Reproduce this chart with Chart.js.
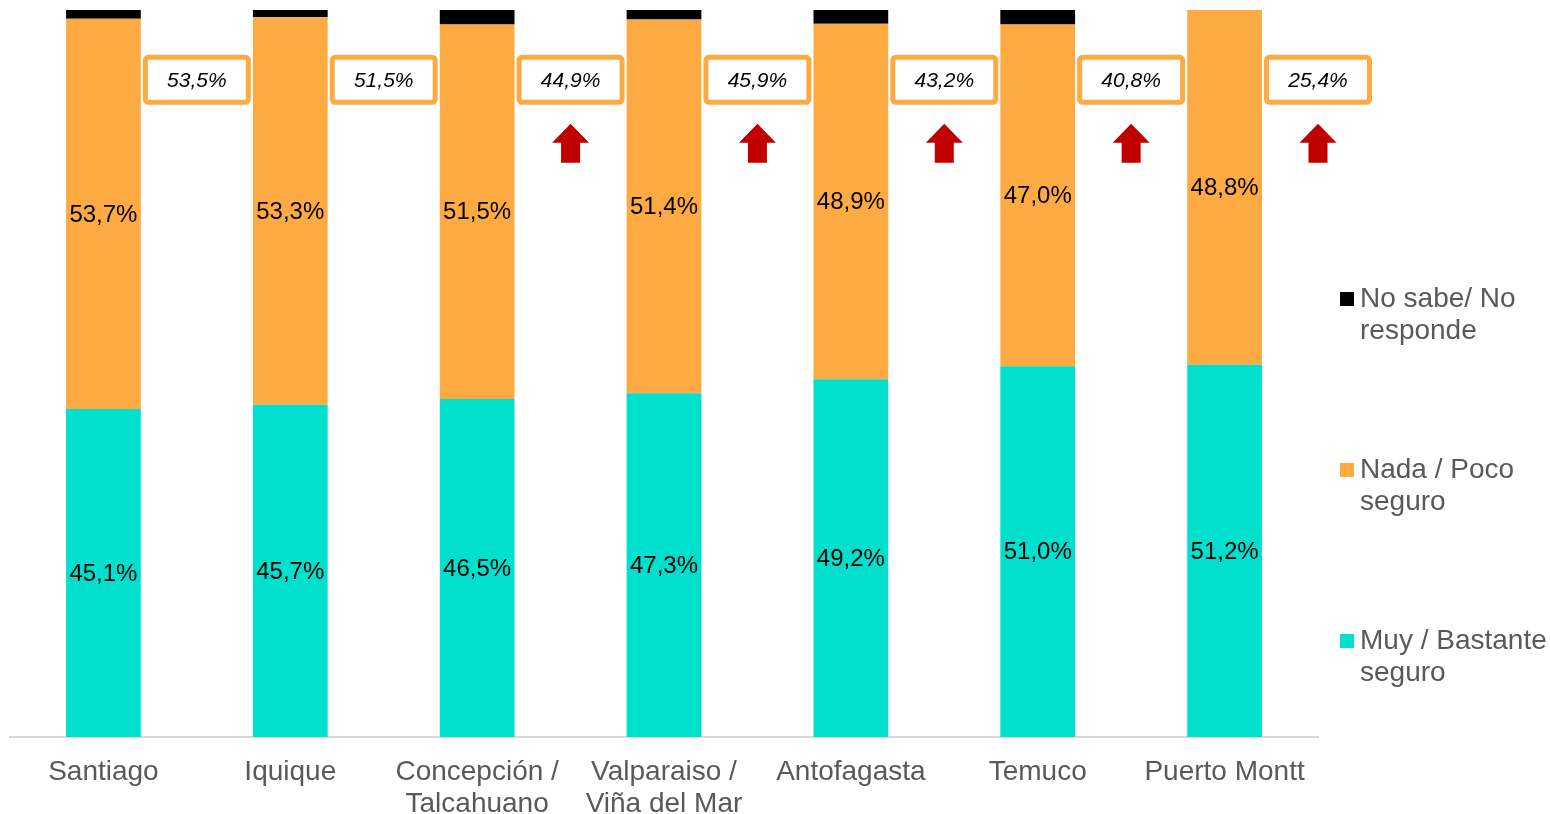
<!DOCTYPE html>
<html>
<head>
<meta charset="utf-8">
<script src="https://cdn.jsdelivr.net/npm/chart.js@4"></script>
<style>
  body { margin: 0; background: #fff; }
  #wrap { width: 1550px; height: 814px; position: relative; }
</style>
</head>
<body>
<div id="wrap"><canvas id="chart"></canvas></div>
<script>
// Datos del gráfico
const categories = ["Santiago", "Iquique", ["Concepción /", "Talcahuano"], ["Valparaiso /", "Viña del Mar"], "Antofagasta", "Temuco", "Puerto Montt"];
const muySeguro = [45.1, 45.7, 46.5, 47.3, 49.2, 51.0, 51.2];
const nadaSeguro = [53.7, 53.3, 51.5, 51.4, 48.9, 47.0, 48.8];
const noSabe = [1.2, 1.0, 2.0, 1.3, 1.9, 2.0, 0.0];
const boxValues = [53.5, 51.5, 44.9, 45.9, 43.2, 40.8, 25.4];
const arrowUp = [false, false, true, true, true, true, true];
const legendNames = [["No sabe/ No", "responde"], ["Nada / Poco", "seguro"], ["Muy / Bastante", "seguro"]];

const colors = { muy: "#00E0CC", nada: "#FDAA43", nosabe: "#000000", arrow: "#C00000" };
const fontFamily = "'Liberation Sans', Arial, sans-serif";
const fmt = (v) => v.toFixed(1).replace(".", ",") + "%";

// Etiquetas dentro de las barras, cajas y flechas, leyenda
const overlayPlugin = {
  id: "overlay",
  afterDatasetsDraw(chart) {
    const ctx = chart.ctx;
    ctx.save();
    ctx.fillStyle = "#000";
    ctx.font = `24px ${fontFamily}`;
    ctx.textAlign = "center";
    ctx.textBaseline = "middle";
    [0, 1].forEach((d) => {
      const meta = chart.getDatasetMeta(d);
      meta.data.forEach((el, i) => {
        const v = chart.data.datasets[d].data[i];
        ctx.fillText(fmt(v), el.x, (el.y + el.base) / 2 + 1);
      });
    });
    ctx.restore();
  },
  afterDraw(chart) {
    const ctx = chart.ctx;
    const xs = chart.scales.x;
    const ys = chart.scales.y;
    const half = (xs.getPixelForValue(1) - xs.getPixelForValue(0)) / 2;
    ctx.save();

    boxValues.forEach((v, i) => {
      const cx = xs.getPixelForValue(i) + half;
      const cy = ys.getPixelForValue(90.4);
      const w = 103, h = 45;
      ctx.beginPath();
      ctx.roundRect(cx - w / 2, cy - h / 2, w, h, 3);
      ctx.fillStyle = "#fff";
      ctx.fill();
      ctx.lineWidth = 5;
      ctx.strokeStyle = colors.nada;
      ctx.stroke();
      ctx.fillStyle = "#000";
      ctx.font = `italic 21px ${fontFamily}`;
      ctx.textAlign = "center";
      ctx.textBaseline = "middle";
      ctx.fillText(fmt(v), cx, cy + 1);

      if (arrowUp[i]) {
        const top = cy + 44, mid = cy + 63, bottom = cy + 83;
        ctx.beginPath();
        ctx.moveTo(cx, top);
        ctx.lineTo(cx + 18.5, mid);
        ctx.lineTo(cx + 9.5, mid);
        ctx.lineTo(cx + 9.5, bottom);
        ctx.lineTo(cx - 9.5, bottom);
        ctx.lineTo(cx - 9.5, mid);
        ctx.lineTo(cx - 18.5, mid);
        ctx.closePath();
        ctx.fillStyle = colors.arrow;
        ctx.fill();
      }
    });

    // Leyenda a la derecha
    const legendColors = [colors.nosabe, colors.nada, colors.muy];
    const legendY = [289, 460, 631];
    const area = chart.chartArea;
    ctx.font = `28px ${fontFamily}`;
    ctx.textAlign = "left";
    ctx.textBaseline = "middle";
    legendNames.forEach((lines, k) => {
      const y = area.top + legendY[k];
      ctx.fillStyle = legendColors[k];
      ctx.fillRect(area.right + 22, y - 7, 14, 14);
      ctx.fillStyle = "#595959";
      lines.forEach((t, j) => ctx.fillText(t, area.right + 42, y + j * 32));
    });
    ctx.restore();
  },
};

new Chart(document.getElementById("chart"), {
  type: "bar",
  data: {
    labels: categories,
    datasets: [
      { label: "Muy / Bastante seguro", data: muySeguro, backgroundColor: colors.muy },
      { label: "Nada / Poco seguro", data: nadaSeguro, backgroundColor: colors.nada },
      { label: "No sabe/ No responde", data: noSabe, backgroundColor: colors.nosabe },
    ],
  },
  options: {
    responsive: true,
    maintainAspectRatio: false,
    animation: false,
    categoryPercentage: 1,
    barPercentage: 0.4,
    layout: { padding: { top: 10, left: 10, right: 232, bottom: 0 } },
    plugins: { legend: { display: false }, tooltip: { enabled: false } },
    scales: {
      x: {
        stacked: true,
        grid: { display: false, drawTicks: false },
        border: { display: true, color: "#D9D9D9", width: 2 },
        ticks: {
          color: "#595959",
          font: { family: fontFamily, size: 28, lineHeight: 1.15 },
          padding: 19,
          maxRotation: 0,
          autoSkip: false,
        },
        afterFit: (scale) => { scale.height = 77; },
      },
      y: {
        stacked: true,
        display: false,
        min: 0,
        max: 100,
      },
    },
  },
  plugins: [overlayPlugin],
});
</script>
</body>
</html>
